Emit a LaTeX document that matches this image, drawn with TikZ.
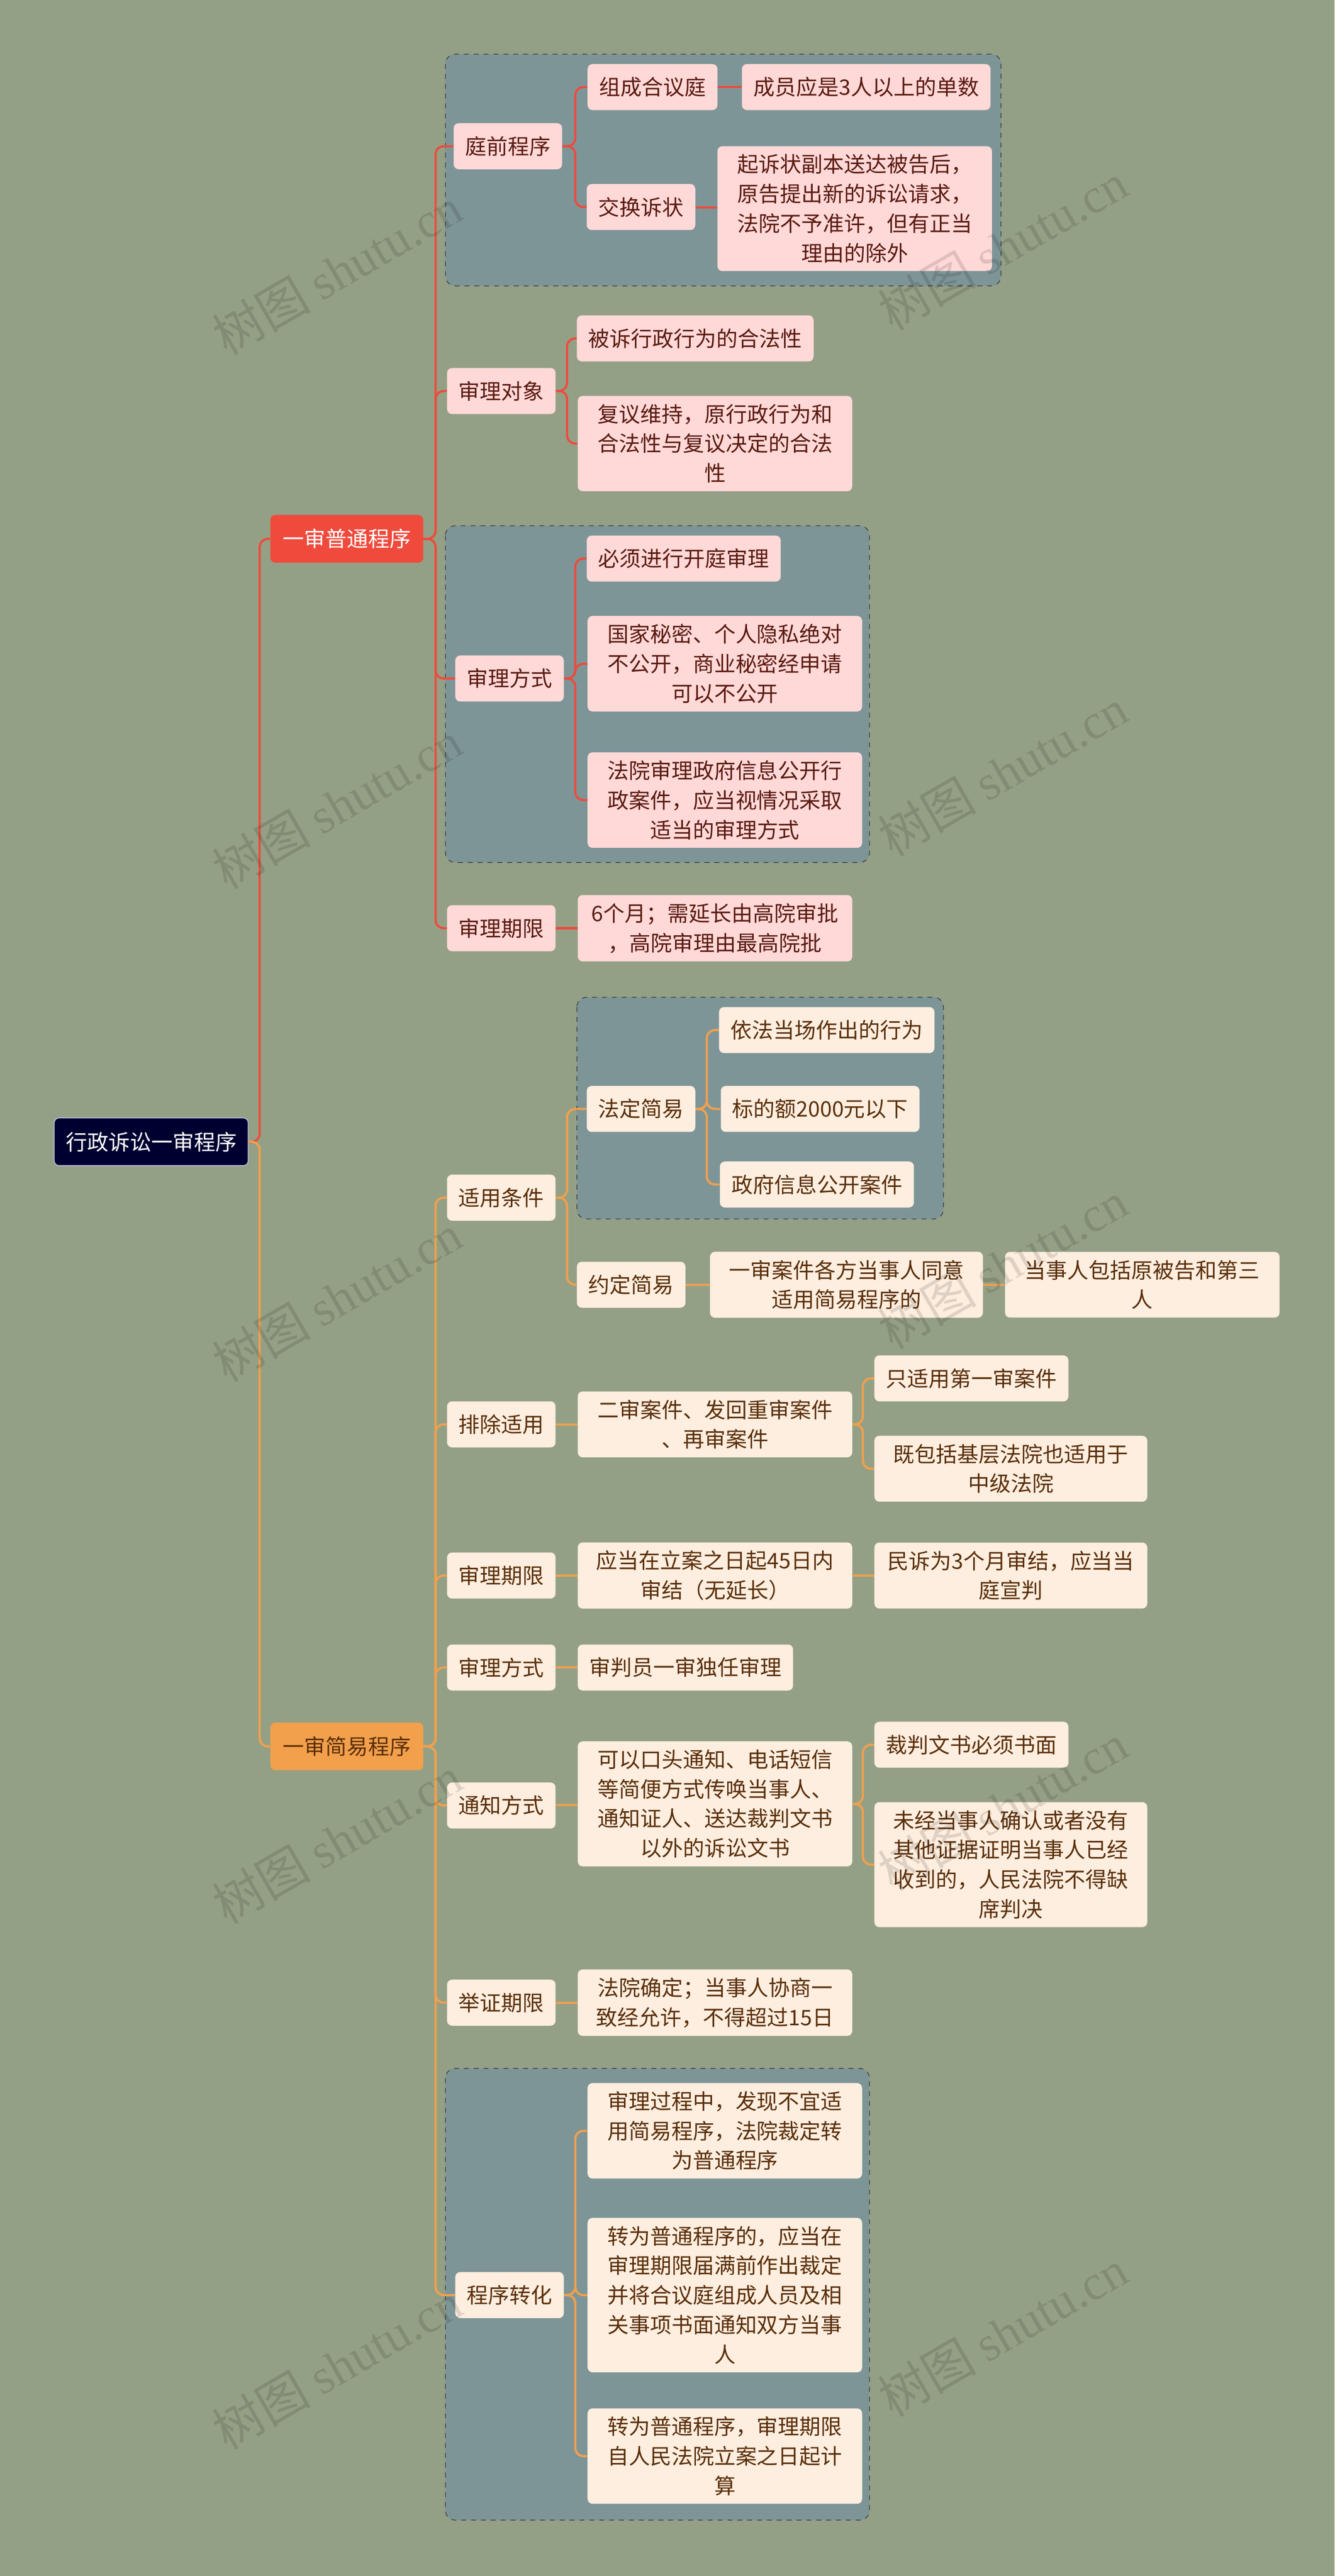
\documentclass[tikz,border=0pt]{standalone}
\usepackage{fontspec}
\setmainfont{Noto Sans CJK SC}
\newfontfamily\wmfont{Liberation Serif}
\XeTeXlinebreaklocale "zh"
\XeTeXlinebreakskip=0pt plus 1pt
\begin{document}
\begin{tikzpicture}[x=1pt,y=-1pt,
  base/.style={rounded corners=3pt,font=\fontsize{13}{18}\selectfont,inner sep=5pt,inner xsep=7pt,minimum height=28pt,align=center,anchor=center},
  pk/.style={base,fill=pinkf,text=txtr},
  og/.style={base,fill=creamf,text=txto},
  grp/.style={draw=black!80,dashed,fill=slatef,rounded corners=6pt},
  rl/.style={draw=redl,line width=1.3pt,rounded corners=5pt},
  ol/.style={draw=orgl,line width=1.3pt,rounded corners=5pt},
  wm/.style={font=\fontsize{30}{30}\selectfont,text=black,opacity=0.12,rotate=30}]
\definecolor{bgc}{HTML}{94A085}
\definecolor{slatef}{HTML}{7E9598}
\definecolor{pinkf}{HTML}{FFD9D8}
\definecolor{creamf}{HTML}{FDEEDF}
\definecolor{txtr}{HTML}{5A1A10}
\definecolor{txto}{HTML}{5A2E0A}
\definecolor{redl}{HTML}{EF4A3C}
\definecolor{orgl}{HTML}{F2A04C}
\fill[bgc] (0,0) rectangle (812,1568);
\useasboundingbox (0,0) rectangle (812,1568);
% groups
\draw[grp] (271,33) rectangle (609,174);
\draw[grp] (271,320) rectangle (529,525);
\draw[grp] (351,607) rectangle (574,742);
\draw[grp] (271,1259) rectangle (529,1534);
% nodes
\node[base,fill=black!5!blue!20!black,draw=white!80!blue,text=white,minimum height=29pt,minimum width=118pt] (root) at (92,695) {行政诉讼一审程序};
\node[base,fill=redl,text=white,minimum height=29pt,minimum width=93pt] (A) at (211,328) {一审普通程序};
\node[base,fill=orgl,text=txto,minimum height=29pt,minimum width=93pt] (B) at (211,1063) {一审简易程序};
% A branch
\node[pk] (a1) at (309,89) {庭前程序};
\node[pk] (a11) at (397,53) {组成合议庭};
\node[pk] (a111) at (527,53) {成员应是3人以上的单数};
\node[pk] (a12) at (390,126) {交换诉状};
\node[pk,minimum width=167pt] (a121) at (520,127) {起诉状副本送达被告后，\\原告提出新的诉讼请求，\\法院不予准许，但有正当\\理由的除外};
\node[pk] (a2) at (305,238) {审理对象};
\node[pk] (a21) at (423,206) {被诉行政行为的合法性};
\node[pk,minimum width=167pt] (a22) at (435,270) {复议维持，原行政行为和\\合法性与复议决定的合法\\性};
\node[pk] (a3) at (310,413) {审理方式};
\node[pk] (a31) at (416,340) {必须进行开庭审理};
\node[pk,minimum width=167pt] (a32) at (441,404) {国家秘密、个人隐私绝对\\不公开，商业秘密经申请\\可以不公开};
\node[pk,minimum width=167pt] (a33) at (441,487) {法院审理政府信息公开行\\政案件，应当视情况采取\\适当的审理方式};
\node[pk] (a4) at (305,565) {审理期限};
\node[pk,minimum width=167pt] (a41) at (435,565) {6个月；需延长由高院审批\\，高院审理由最高院批};
% B branch
\node[og] (b1) at (305,729) {适用条件};
\node[og] (b11) at (390,675) {法定简易};
\node[og] (b111) at (503,627) {依法当场作出的行为};
\node[og] (b112) at (499,675) {标的额2000元以下};
\node[og] (b113) at (497,721) {政府信息公开案件};
\node[og] (b12) at (384,782) {约定简易};
\node[og,minimum width=166pt] (b121) at (515,782) {一审案件各方当事人同意\\适用简易程序的};
\node[og,minimum width=167pt] (b122) at (695,782) {当事人包括原被告和第三\\人};
\node[og] (b2) at (305,867) {排除适用};
\node[og,minimum width=167pt] (b21) at (435,867) {二审案件、发回重审案件\\、再审案件};
\node[og] (b211) at (591,839) {只适用第一审案件};
\node[og,minimum width=166pt] (b212) at (615,894) {既包括基层法院也适用于\\中级法院};
\node[og] (b3) at (305,959) {审理期限};
\node[og,minimum width=167pt] (b31) at (435,959) {应当在立案之日起45日内\\审结（无延长）};
\node[og,minimum width=166pt] (b32) at (615,959) {民诉为3个月审结，应当当\\庭宣判};
\node[og] (b4) at (305,1015) {审理方式};
\node[og] (b41) at (417,1015) {审判员一审独任审理};
\node[og] (b5) at (305,1099) {通知方式};
\node[og,minimum width=167pt] (b51) at (435,1098) {可以口头通知、电话短信\\等简便方式传唤当事人、\\通知证人、送达裁判文书\\以外的诉讼文书};
\node[og] (b511) at (591,1062) {裁判文书必须书面};
\node[og,minimum width=166pt] (b512) at (615,1135) {未经当事人确认或者没有\\其他证据证明当事人已经\\收到的，人民法院不得缺\\席判决};
\node[og] (b6) at (305,1219) {举证期限};
\node[og,minimum width=167pt] (b61) at (435,1219) {法院确定；当事人协商一\\致经允许，不得超过15日};
\node[og] (b7) at (310,1397) {程序转化};
\node[og,minimum width=167pt] (b71) at (441,1297) {审理过程中，发现不宜适\\用简易程序，法院裁定转\\为普通程序};
\node[og,minimum width=167pt] (b72) at (441,1397) {转为普通程序的，应当在\\审理期限届满前作出裁定\\并将合议庭组成人员及相\\关事项书面通知双方当事\\人};
\node[og,minimum width=167pt] (b73) at (441,1495) {转为普通程序，审理期限\\自人民法院立案之日起计\\算};
% connectors
\draw[rl] (root.east) -- (158,695) |- (A.west);
\draw[ol] (root.east) -- (158,695) |- (B.west);
\foreach \c in {a1,a2,a3,a4} \draw[rl] (A.east) -- (265,328) |- (\c.west);
\foreach \c in {b1,b2,b3,b4,b5,b6,b7} \draw[ol] (B.east) -- (265,1063) |- (\c.west);
\foreach \c in {a11,a12} \draw[rl] (a1.east) -- (350,89) |- (\c.west);
\draw[rl] (a11) -- (a111); \draw[rl] (a12) -- (a121);
\foreach \c in {a21,a22} \draw[rl] (a2.east) -- (345,238) |- (\c.west);
\foreach \c in {a31,a32,a33} \draw[rl] (a3.east) -- (350,413) |- (\c.west);
\draw[rl] (a4) -- (a41);
\foreach \c in {b11,b12} \draw[ol] (b1.east) -- (345,729) |- (\c.west);
\foreach \c in {b111,b112,b113} \draw[ol] (b11.east) -- (430,675) |- (\c.west);
\draw[ol] (b12) -- (b121); \draw[ol] (b121) -- (b122);
\draw[ol] (b2) -- (b21);
\foreach \c in {b211,b212} \draw[ol] (b21.east) -- (525,867) |- (\c.west);
\draw[ol] (b3) -- (b31); \draw[ol] (b31) -- (b32);
\draw[ol] (b4) -- (b41);
\draw[ol] (b5) -- (b51);
\foreach \c in {b511,b512} \draw[ol] (b51.east) -- (525,1098) |- (\c.west);
\draw[ol] (b6) -- (b61);
\foreach \c in {b71,b72,b73} \draw[ol] (b7.east) -- (350,1397) |- (\c.west);
% watermarks
\foreach \p in {(205,165),(610,150),(205,490),(610,470),(205,790),(610,770),(205,1120),(610,1100),(205,1440),(610,1420)}
  \node[wm] at \p {树图 {\wmfont shutu.cn}};
\end{tikzpicture}
\end{document}
